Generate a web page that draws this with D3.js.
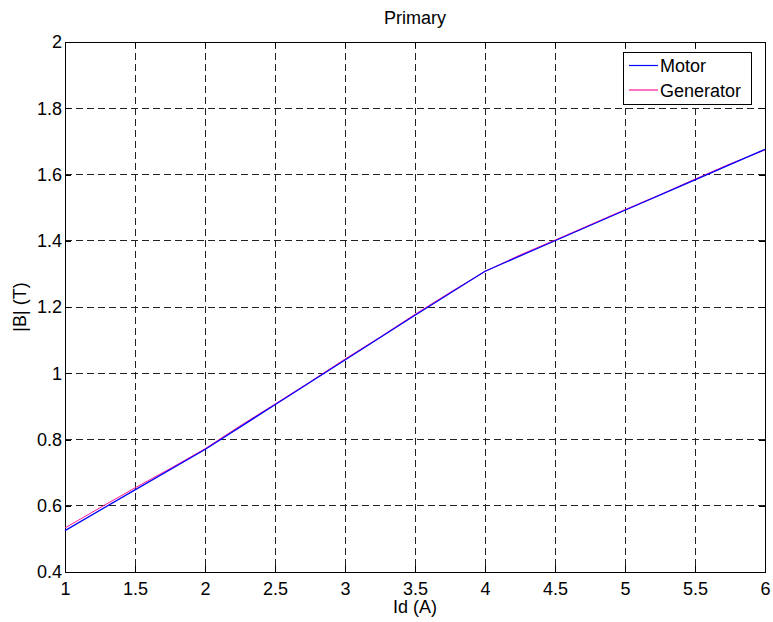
<!DOCTYPE html>
<html lang="en">
<head>
    <meta charset="UTF-8">
    <script src="https://d3js.org/d3.v7.min.js"></script>
    <title>Primary</title>
    <style>
        body { margin: 0; background: #fff; }
        text { font-family: "Liberation Sans", Arial, sans-serif; fill: #000; }
        .grid line { stroke: #222; stroke-dasharray: 7,4; stroke-width: 1; shape-rendering: crispEdges; }
    </style>
</head>
<body>
    <svg width="773" height="622"></svg>

    <script>
        // data
        var motorX = [1, 1.5, 2, 2.5, 3, 3.5, 4, 4.5, 5, 5.5, 6];
        var motorY = [0.525, 0.648, 0.770, 0.905, 1.040, 1.175, 1.308, 1.400, 1.492, 1.584, 1.676];

        var genX = [1, 1.25, 1.5, 1.75, 2, 2.25, 2.5, 2.75, 3, 3.25, 3.5, 3.75, 4, 4.25, 4.5, 4.75, 5, 5.25, 5.5, 5.75, 6];
        var genY = [0.533, 0.594, 0.654, 0.712, 0.772, 0.841, 0.907, 0.974, 1.043, 1.109, 1.178, 1.244, 1.307, 1.357, 1.402, 1.448, 1.494, 1.539, 1.586, 1.632, 1.674];

        var xTicks = [1, 1.5, 2, 2.5, 3, 3.5, 4, 4.5, 5, 5.5, 6];
        var yTicks = [0.4, 0.6, 0.8, 1, 1.2, 1.4, 1.6, 1.8, 2];

        var svg = d3.select('svg'),
            pLeft = 65, pRight = 765, pTop = 42, pBottom = 572,
            fontSize = '18px';

        var xScale = d3.scaleLinear().domain([1, 6]).range([pLeft, pRight]);
        var yScale = d3.scaleLinear().domain([0.4, 2]).range([pBottom, pTop]);

        // dashed grid
        var grid = svg.append('g').attr('class', 'grid');
        grid.selectAll('.vx')
            .data(xTicks.slice(1, -1))
            .enter().append('line')
            .attr('x1', d => xScale(d)).attr('x2', d => xScale(d))
            .attr('y1', pTop).attr('y2', pBottom);
        grid.selectAll('.hy')
            .data(yTicks.slice(1, -1))
            .enter().append('line')
            .attr('x1', pLeft).attr('x2', pRight)
            .attr('y1', d => yScale(d)).attr('y2', d => yScale(d));

        // axes, ticks inward like matlab
        var fmt = d => String(d);
        svg.append('g')
            .attr('transform', 'translate(0,' + pBottom + ')')
            .call(d3.axisBottom(xScale).tickValues(xTicks).tickFormat(fmt).tickSize(-6).tickPadding(10));
        svg.append('g')
            .attr('transform', 'translate(0,' + pTop + ')')
            .call(d3.axisTop(xScale).tickValues(xTicks).tickFormat('').tickSize(-6));
        svg.append('g')
            .attr('transform', 'translate(' + pLeft + ',0)')
            .call(d3.axisLeft(yScale).tickValues(yTicks).tickFormat(fmt).tickSize(-6).tickPadding(3));
        svg.append('g')
            .attr('transform', 'translate(' + pRight + ',0)')
            .call(d3.axisRight(yScale).tickValues(yTicks).tickFormat('').tickSize(-6));

        svg.selectAll('.domain').attr('stroke', '#000').style('shape-rendering', 'crispEdges');
        svg.selectAll('.tick line').attr('stroke', '#000').style('shape-rendering', 'crispEdges');
        svg.selectAll('.tick text')
            .style('font-family', '"Liberation Sans", Arial, sans-serif')
            .style('font-size', fontSize)
            .attr('fill', '#000');

        // lines
        var line = d3.line().x(d => xScale(d[0])).y(d => yScale(d[1]));

        svg.append('path')
            .datum(genX.map((x, i) => [x, genY[i]]))
            .attr('fill', 'none')
            .attr('stroke', '#ff1493')
            .attr('stroke-width', 1)
            .attr('d', line);

        svg.append('path')
            .datum(motorX.map((x, i) => [x, motorY[i]]))
            .attr('fill', 'none')
            .attr('stroke', '#0000ff')
            .attr('stroke-width', 1.3)
            .attr('d', line);

        // legend
        var lg = svg.append('g');
        lg.append('rect')
            .attr('x', 623.5).attr('y', 52.5).attr('width', 128).attr('height', 52)
            .attr('fill', '#fff').attr('stroke', '#000');
        var items = [['Motor', '#0000ff'], ['Generator', '#ff1493']];
        items.forEach(function (it, i) {
            var y = 65.5 + i * 24.5;
            lg.append('line')
                .attr('x1', 629).attr('x2', 658).attr('y1', y).attr('y2', y)
                .attr('stroke', it[1]).attr('stroke-width', 1.2);
            lg.append('text')
                .attr('x', 660).attr('y', y + 6.5)
                .style('font-size', fontSize)
                .text(it[0]);
        });

        // titles
        svg.append('text')
            .attr('x', (pLeft + pRight) / 2).attr('y', 24)
            .attr('text-anchor', 'middle')
            .style('font-size', fontSize)
            .text('Primary');

        svg.append('text')
            .attr('x', (pLeft + pRight) / 2).attr('y', 613)
            .attr('text-anchor', 'middle')
            .style('font-size', fontSize)
            .text('Id (A)');

        svg.append('text')
            .attr('transform', 'translate(26,' + ((pTop + pBottom) / 2) + ') rotate(-90)')
            .attr('text-anchor', 'middle')
            .style('font-size', fontSize)
            .text('|B| (T)');
    </script>
</body>
</html>
